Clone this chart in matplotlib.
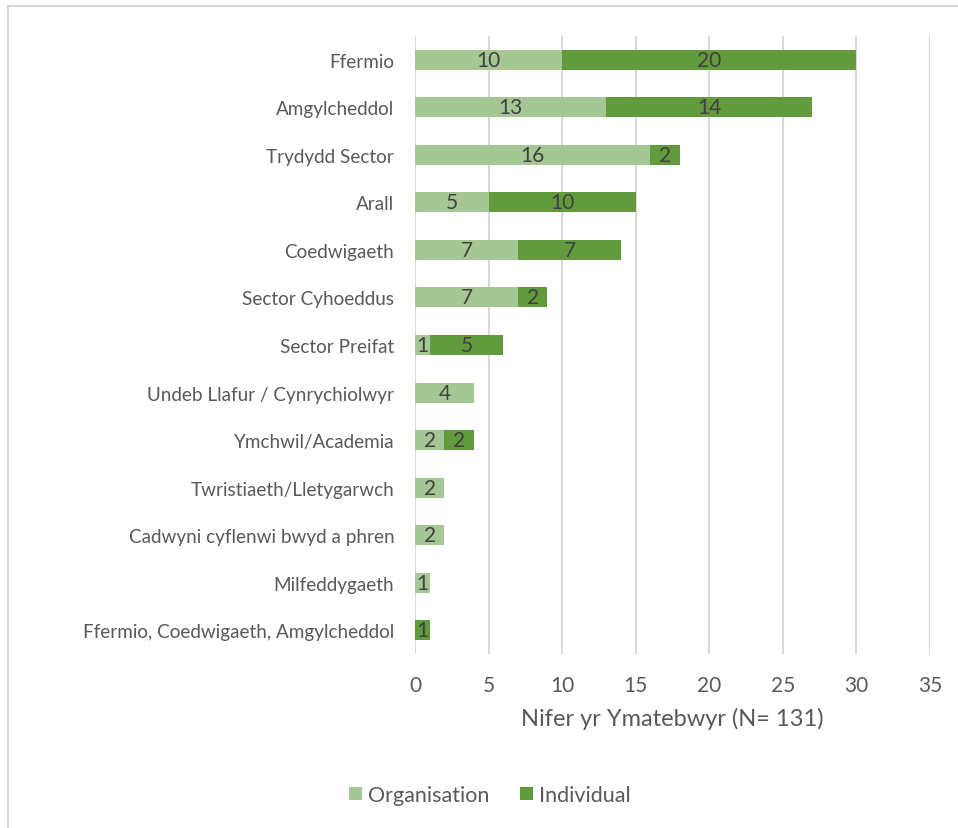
import matplotlib
matplotlib.use("Agg")
import matplotlib.pyplot as plt
from matplotlib.patches import Rectangle

categories = ["Ffermio", "Amgylcheddol", "Trydydd Sector", "Arall", "Coedwigaeth",
              "Sector Cyhoeddus", "Sector Preifat", "Undeb Llafur / Cynrychiolwyr",
              "Ymchwil/Academia", "Twristiaeth/Lletygarwch", "Cadwyni cyflenwi bwyd a phren",
              "Milfeddygaeth", "Ffermio, Coedwigaeth, Amgylcheddol"]
organisation = [10, 13, 16, 5, 7, 7, 1, 4, 2, 2, 2, 1, 0]
individual = [20, 14, 2, 10, 7, 2, 5, 0, 2, 0, 0, 0, 1]
xticks = [0, 5, 10, 15, 20, 25, 30, 35]
xlabel = "Nifer yr Ymatebwyr (N= 131)"

plt.rcParams['font.family'] = ['Lato', 'DejaVu Sans']
LIGHT = "#A4C794"
DARK = "#629A3E"
TXT = "#595959"
LBL = "#404040"

fig = plt.figure(figsize=(9.58, 8.29), dpi=100)
ax = fig.add_axes([415/958, 1-655/829, (930-415)/958, (655-37)/829])

y = list(range(len(categories)))
b1 = ax.barh(y, organisation, height=0.42, color=LIGHT, label="Organisation", zorder=3)
b2 = ax.barh(y, individual, left=organisation, height=0.42, color=DARK, label="Individual", zorder=3)

for bars, vals in ((b1, organisation), (b2, individual)):
    for rect, v in zip(bars, vals):
        if v > 0:
            ax.text(rect.get_x() + rect.get_width()/2, rect.get_y() + rect.get_height()/2,
                    str(v), ha="center", va="center", fontsize=15, color=LBL, zorder=4)

ax.set_xlim(0, 35)
ax.set_ylim(len(categories) - 0.5, -0.5)
ax.set_xticks(xticks)
ax.set_yticks(y)
ax.set_yticklabels(categories)
ax.tick_params(axis="both", length=0, labelcolor=TXT)
ax.tick_params(axis="x", pad=15, labelsize=15)
ax.tick_params(axis="y", pad=15, labelsize=13.6)
ax.grid(axis="x", color="#D9D9D9", linewidth=1.5, zorder=0)
for s in ax.spines.values():
    s.set_visible(False)
ax.set_xlabel(xlabel, fontsize=17, color=TXT, labelpad=9)

fig.legend(loc="center", bbox_to_anchor=(490/958, 1-796/829), ncol=2, frameon=False,
           fontsize=15.5, handlelength=0.6, handleheight=0.6, handletextpad=0.3,
           columnspacing=1.4, labelcolor=TXT)

fig.patches.append(Rectangle((8/958, -0.1), 1.2, 1.1 - 7/829, transform=fig.transFigure,
                             fill=False, edgecolor="#D9D9D9", linewidth=1.5))

fig.savefig("out.png", dpi=100)
